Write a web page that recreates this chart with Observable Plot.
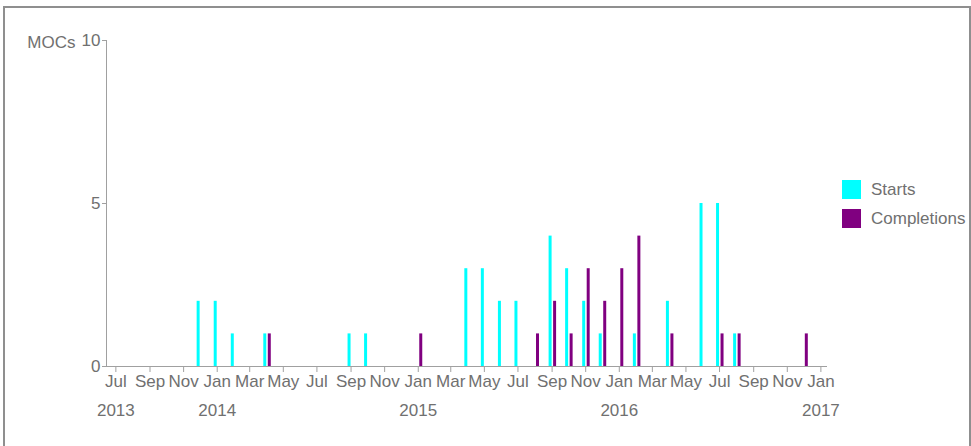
<!DOCTYPE html>
<html>
<head>
<meta charset="utf-8">
<script src="https://cdn.jsdelivr.net/npm/d3@7"></script>
<script src="https://cdn.jsdelivr.net/npm/@observablehq/plot@0.6"></script>
<style>
  body { margin: 0; background: #fff; font-family: "Liberation Sans", Arial, sans-serif; }
  #wrap { position: relative; width: 971px; height: 446px; overflow: hidden; }
  #frame { position: absolute; left: 3px; top: 6px; width: 968px; height: 470px; border: 2px solid #8f8f8f; box-sizing: border-box; }
  #chart { position: absolute; left: 0; top: 0; }
  .leg { position: absolute; left: 842px; font-size: 17px; color: #707070; display: flex; align-items: center; height: 19px; }
  .sw { width: 19px; height: 19px; margin-right: 10px; }
</style>
</head>
<body>
<div id="wrap">
  <div id="frame"></div>
  <div id="chart"></div>
  <div id="legend"></div>
</div>
<script>
// Series
const seriesNames = ["Starts", "Completions"];
const seriesColors = ["#00ffff", "#800080"];

// Starts per month
const startMonths = ["2013-12", "2014-01", "2014-02", "2014-04", "2014-09", "2014-10",
  "2015-04", "2015-05", "2015-06", "2015-07", "2015-09", "2015-10", "2015-11", "2015-12",
  "2016-02", "2016-04", "2016-06", "2016-07", "2016-08"];
const startCounts = [2, 2, 1, 1, 1, 1, 3, 3, 2, 2, 4, 3, 2, 1, 1, 2, 5, 5, 1];

// Completions per month
const completionMonths = ["2014-04", "2015-01", "2015-08", "2015-09", "2015-10", "2015-11",
  "2015-12", "2016-01", "2016-02", "2016-04", "2016-07", "2016-08", "2016-12"];
const completionCounts = [1, 1, 1, 2, 1, 3, 2, 3, 4, 1, 1, 1, 1];

// Axis ticks
const yTicks = [0, 5, 10];
const yLabel = "MOCs";
const monthTicks = ["2013-07", "2013-09", "2013-11", "2014-01", "2014-03", "2014-05", "2014-07",
  "2014-09", "2014-11", "2015-01", "2015-03", "2015-05", "2015-07", "2015-09", "2015-11",
  "2016-01", "2016-03", "2016-05", "2016-07", "2016-09", "2016-11", "2017-01"];
const yearTicks = ["2013-07", "2014-01", "2015-01", "2016-01", "2017-01"];
const yearLabels = ["2013", "2014", "2015", "2016", "2017"];
const xDomain = ["2013-06-14", "2017-01-13"];

const parseM = d3.utcParse("%Y-%m");
const parseD = d3.utcParse("%Y-%m-%d");
const starts = startMonths.map((m, i) => ({date: parseM(m), count: startCounts[i], series: seriesNames[0]}));
const completions = completionMonths.map((m, i) => ({date: parseM(m), count: completionCounts[i], series: seriesNames[1]}));
const monthDates = monthTicks.map(parseM);
const yearDates = yearTicks.map(parseM);
const yearMap = new Map(yearDates.map((d, i) => [+d, yearLabels[i]]));
const domain = xDomain.map(parseD);

const txt = "#707070";
const axisStroke = "#a0a0a0";
const fs = 17;

const chart = Plot.plot({
  width: 971,
  height: 446,
  marginLeft: 106,
  marginRight: 144,
  marginTop: 40,
  marginBottom: 80,
  style: {fontFamily: "'Liberation Sans', Arial, sans-serif", fontSize: fs + "px", color: txt, background: "transparent"},
  x: {type: "utc", domain},
  y: {domain: [0, 10]},
  color: {domain: seriesNames, range: seriesColors},
  marks: [
    Plot.ruleY([0], {stroke: axisStroke}),
    Plot.ruleX([domain[0]], {stroke: axisStroke}),
    Plot.axisY({ticks: yTicks, tickSize: 4, tickPadding: 2, stroke: axisStroke, fill: txt, fontSize: fs, label: null}),
    Plot.axisX({ticks: monthDates, tickFormat: d3.utcFormat("%b"), tickSize: 6, tickPadding: 2, stroke: axisStroke, fill: txt, fontSize: fs, label: null}),
    Plot.axisX({ticks: yearDates, tickFormat: d => yearMap.get(+d), tickSize: 0, tickPadding: 37, fill: txt, fontSize: fs, label: null}),
    Plot.ruleX(starts, {x: "date", y1: 0, y2: "count", stroke: "series", strokeWidth: 3, dx: -2}),
    Plot.ruleX(completions, {x: "date", y1: 0, y2: "count", stroke: "series", strokeWidth: 3, dx: 2.5}),
    Plot.text([yLabel], {frameAnchor: "top-left", dx: -31, dy: 2, textAnchor: "end", lineAnchor: "middle", fill: txt, fontSize: fs})
  ]
});
document.getElementById("chart").appendChild(chart);

const legend = document.getElementById("legend");
seriesNames.forEach((name, i) => {
  const row = document.createElement("div");
  row.className = "leg";
  row.style.top = (180 + i * 29) + "px";
  const sw = document.createElement("div");
  sw.className = "sw";
  sw.style.background = seriesColors[i];
  const label = document.createElement("span");
  label.textContent = name;
  row.appendChild(sw);
  row.appendChild(label);
  legend.appendChild(row);
});
</script>
</body>
</html>
